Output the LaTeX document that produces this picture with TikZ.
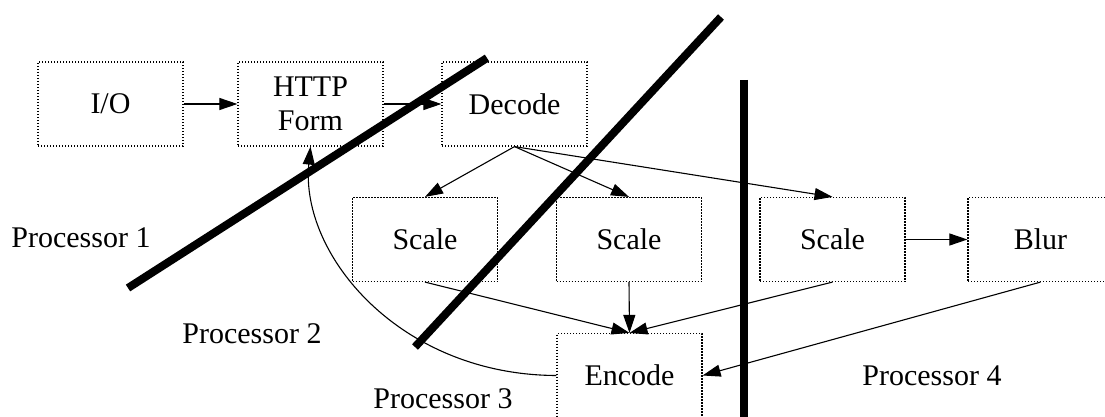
\documentclass[tikz,border=0pt]{standalone}
\usepackage{fontspec}
\setmainfont{Liberation Serif}
\usetikzlibrary{arrows.meta}
\begin{document}
\begin{tikzpicture}[x=1pt,y=-1pt,
  proc/.style={draw=black, line width=1.2pt, dash pattern=on 1.3pt off 1.7pt,
    minimum width=145pt, minimum height=84pt, inner sep=0pt,
    font=\fontsize{30}{34}\selectfont, align=center},
  lab/.style={font=\fontsize{30}{34}\selectfont, anchor=base, inner sep=0pt},
  conn/.style={line width=1.1pt, -{Triangle[length=18pt,width=12pt]}},
  wall/.style={line width=8pt}]
\useasboundingbox (0,0) rectangle (1105,417);
\clip (0,0) rectangle (1105,417);

% boxes
\node[proc] (io)     at (110.5,104)   {I/O};
\node[proc] (form)   at (310.5,104)   {HTTP\\Form};
\node[proc] (decode) at (514.5,104)   {Decode};
\node[proc] (s1)     at (425,239.5)   {Scale};
\node[proc] (s2)     at (629,239.5)   {Scale};
\node[proc] (s3)     at (832.5,239.5) {Scale};
\node[proc] (blur)   at (1040.5,239.5){Blur};
\node[proc] (enc)    at (629.5,375.5) {Encode};

% labels
\node[lab] (p1) at (81,247)  {Processor 1};
\node[lab] (p2) at (252,343) {Processor 2};
\node[lab] (p3) at (443,408) {Processor 3};
\node[lab] (p4) at (932,385) {Processor 4};

% connectors
\draw[conn] (io) -- (form);
\draw[conn] (form) -- (decode);
\draw[conn] (decode.south) -- (s1.north);
\draw[conn] (decode.south) -- (s2.north);
\draw[conn] (decode.south) -- (s3.north);
\draw[conn] (s3) -- (blur);
\draw[conn] (s1.south) -- (enc.north);
\draw[conn] (s2.south) -- (enc.north);
\draw[conn] (s3.south) -- (enc.north);
\draw[conn] (blur.south) -- (enc.east);
\draw[conn] (enc.west) .. controls (400,375) and (300,255) .. (form.south);

% partition walls
\coordinate (w1a) at (128,288);
\coordinate (w1b) at (487,58);
\coordinate (w2a) at (415,347);
\coordinate (w2b) at (721,17);
\coordinate (w3a) at (744,80);
\coordinate (w3b) at (744,420);
\draw[wall] (w1a) -- (w1b);
\draw[wall] (w2a) -- (w2b);
\draw[wall] (w3a) -- (w3b);
\end{tikzpicture}
\end{document}
